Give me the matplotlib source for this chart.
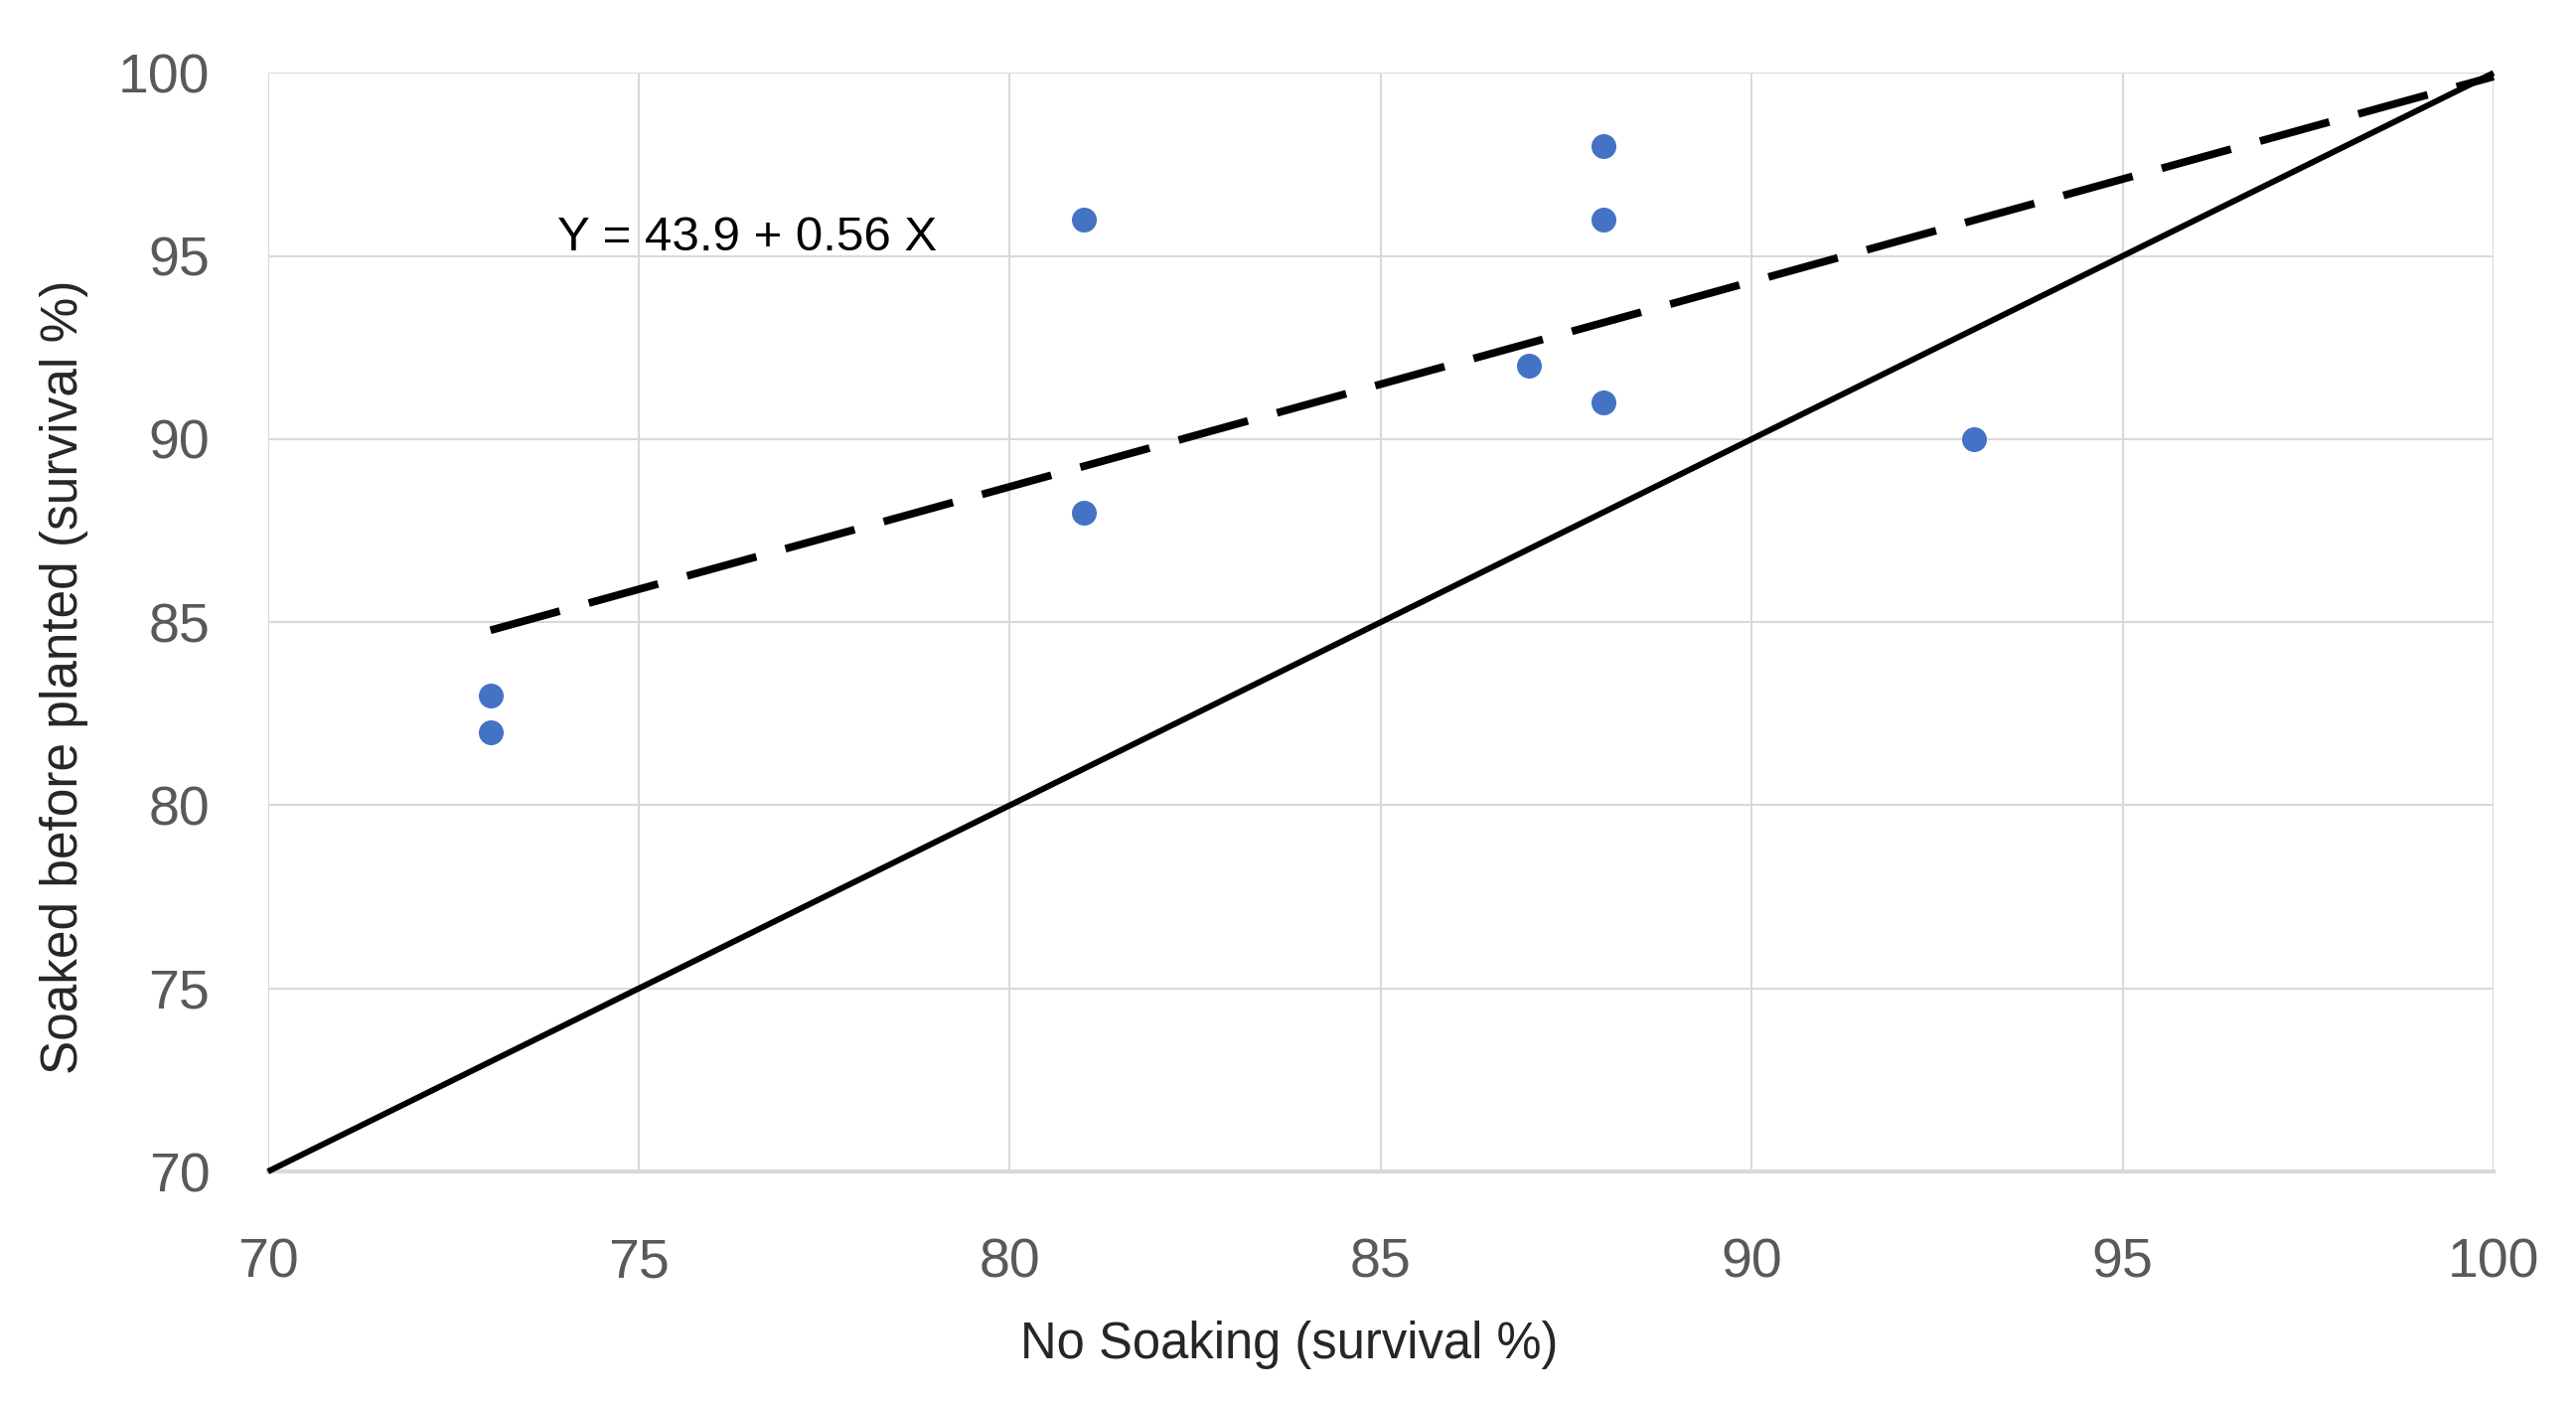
import numpy as np
import matplotlib.pyplot as plt

plt.rcParams['font.family'] = ['Liberation Sans', 'DejaVu Sans']

# survival % per site
no_soak = [73, 73, 81, 81, 87, 88, 88, 88, 93]
soaked = [83, 82, 96, 88, 92, 98, 96, 91, 90]

# fitted line Y = a + b X
fit_a = 43.9
fit_b = 0.56
fit_x = [73, 100]
one_to_one = [70, 100]

fig = plt.figure(figsize=(25.93, 14.11), dpi=100)
ax = fig.add_axes([0.104, 0.1644, 0.864, 0.7836])

ax.set_xlim(70, 100)
ax.set_ylim(70, 100)
ax.set_xticks(np.arange(70, 101, 5))
ax.set_yticks(np.arange(70, 101, 5))
ax.grid(True, color='#d9d9d9', lw=1.5, zorder=0)
ax.set_axisbelow(True)
for s in ['top', 'right', 'left']:
    ax.spines[s].set_visible(False)
ax.spines['bottom'].set_color('#d9d9d9')
ax.spines['bottom'].set_linewidth(3)
ax.tick_params(axis='both', length=0, labelsize=40, labelcolor='#595959')
ax.tick_params(axis='y', pad=42)
ax.tick_params(axis='x', pad=48)

#1:1 line
ax.plot(one_to_one, one_to_one, color='black', lw=4.3, solid_capstyle='butt',
        clip_on=False, zorder=3)

#regression line
fx = np.array(fit_x)
ax.plot(fx, fit_a + fit_b * fx, color='black', lw=5.6, dashes=(9.3, 3.9),
        dash_capstyle='butt', clip_on=False, zorder=3)

ax.plot(no_soak, soaked, 'o', color='#4472c4', markersize=17, zorder=4)

ax.text(73.9, 95.5, 'Y = 43.9 + 0.56 X', fontsize=35.5, color='black',
        ha='left', va='center')

fig.text(0.5005, 0.0404, 'No Soaking (survival %)', fontsize=36.5,
         color='#262626', ha='center', va='center')
fig.text(0.0247, 0.517, 'Soaked before planted (survival %)', fontsize=37,
         color='#262626', ha='center', va='center', rotation=90)

plt.savefig('out.png', dpi=100)
